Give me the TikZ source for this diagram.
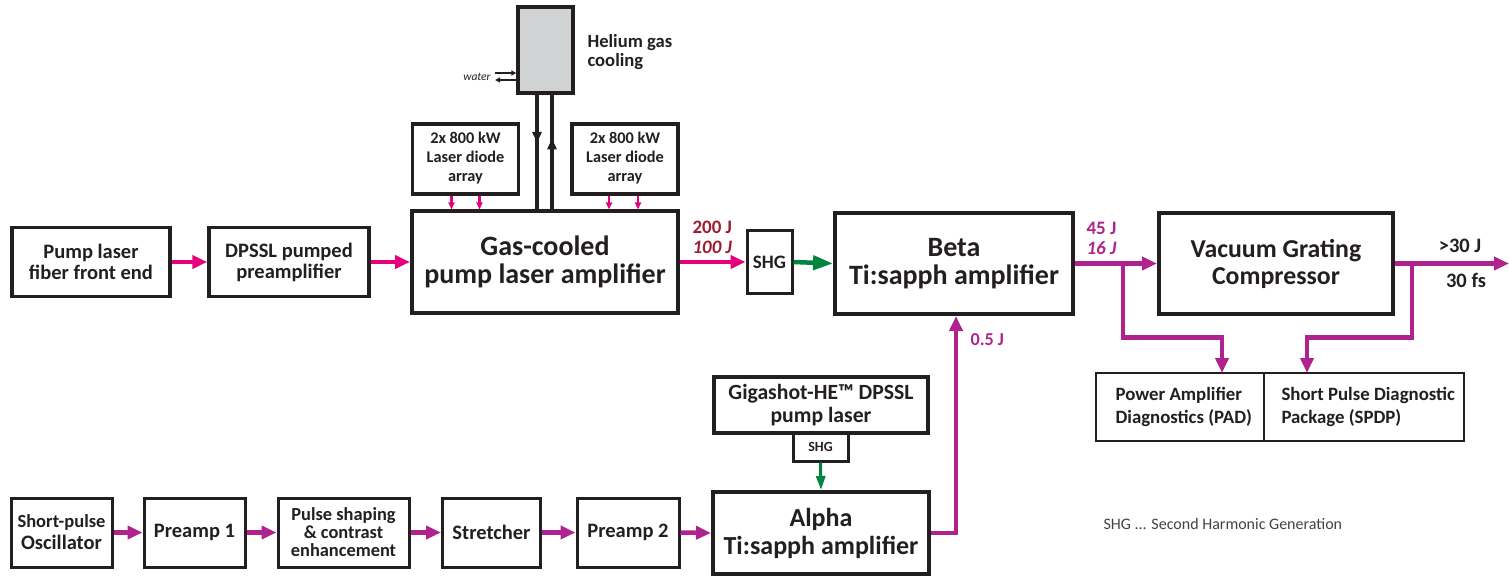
\documentclass[tikz,border=0pt]{standalone}
\usepackage{fontspec}
\setmainfont{Carlito}
\usetikzlibrary{arrows.meta,decorations.markings}
\definecolor{pinkc}{HTML}{E5007D}
\definecolor{purpc}{HTML}{B0238F}
\definecolor{redc}{HTML}{9E1B32}
\definecolor{greenc}{HTML}{00843F}
\definecolor{grayc}{HTML}{D1D2D4}
\definecolor{textc}{HTML}{231F20}
\newcommand{\fs}[2]{\fontsize{#1}{#2}\selectfont}
\newcommand{\diodetext}{\raisebox{-6pt}{\begin{tabular}{@{}c@{}}2x 800 kW\\Laser diode\\array\end{tabular}}}
\tikzset{
  blk/.style={draw=textc, line width=3.5pt, fill=white, align=center, inner sep=0pt, text=textc, font=\bfseries},
  thinblk/.style={draw=textc, line width=2.5pt, fill=white, inner sep=0pt, text=textc},
  pinkarrow/.style={draw=pinkc, line width=4.5pt, -{Triangle[length=15pt,width=13pt]}},
  smallpink/.style={draw=pinkc, line width=2.4pt, -{Triangle[length=7pt,width=6pt]}},
  purparrow/.style={draw=purpc, line width=4.5pt, -{Triangle[length=15pt,width=13pt]}},
  greenarrow/.style={draw=greenc, line width=4.5pt, -{Triangle[length=20pt,width=14pt]}},
  greenarrowsm/.style={draw=greenc, line width=3pt, -{Triangle[length=14pt,width=9pt]}},
  pipe/.style={draw=textc, line width=3.2pt},
  waterarrow/.style={draw=textc, line width=1.4pt, -{Triangle[length=5pt,width=5pt]}},
}
\begin{document}
\begin{tikzpicture}[x=1pt,y=-1pt]
\useasboundingbox (0,0) rectangle (1509,577);
% ---------- top row ----------
\node[blk, minimum width=158, minimum height=69, font=\bfseries\fs{20.5}{21}] (pump) at (91,262) {Pump laser\\fiber front end};
\node[blk, minimum width=160, minimum height=69, font=\bfseries\fs{20.5}{21}] (dpssl) at (289,262) {DPSSL pumped\\preamplifier};
\node[blk, line width=4pt, minimum width=266, minimum height=101, font=\bfseries\fs{28}{28}] (gas) at (545,262) {Gas-cooled\\pump laser amplifier};
\node[blk, minimum width=106, minimum height=70, font=\bfseries\fs{16.3}{19}] (diodeL) at (465.5,159) {\diodetext};
\node[blk, minimum width=106, minimum height=70, font=\bfseries\fs{16.3}{19}] (diodeR) at (625,159) {\diodetext};
\node[blk, fill=grayc, minimum width=55, minimum height=86] (he) at (545.5,50) {};
\node[anchor=west, align=left, text=textc, font=\bfseries\fs{18.6}{19}] (hetxt) at (584,52) {Helium gas\\cooling};
\node[text=textc, font=\itshape\fs{11.5}{12}] (water) at (477,77) {water};
\coordinate (win) at (495,73);
\coordinate (wout) at (495,80);
\draw[waterarrow] (win) -- (win -| he.west);
\draw[waterarrow] (wout -| he.west) -- (wout);
% helium pipes
\draw[pipe, postaction={decorate}, decoration={markings, mark=at position 0.42 with {\arrow{Triangle[length=11pt,width=9pt]}}}]
  ([xshift=-8.5pt]he.south) -- ([xshift=-8.5pt]he.south |- gas.north);
\draw[pipe, postaction={decorate}, decoration={markings, mark=at position 0.62 with {\arrow{Triangle[length=11pt,width=9pt]}}}]
  ([xshift=6.5pt]he.south |- gas.north) -- ([xshift=6.5pt]he.south);
% diode pump arrows
\draw[smallpink] ([xshift=-14pt]diodeL.south) -- ([xshift=-14pt]diodeL.south |- gas.north);
\draw[smallpink] ([xshift=14pt]diodeL.south) -- ([xshift=14pt]diodeL.south |- gas.north);
\draw[smallpink] ([xshift=-16pt]diodeR.south) -- ([xshift=-16pt]diodeR.south |- gas.north);
\draw[smallpink] ([xshift=13pt]diodeR.south) -- ([xshift=13pt]diodeR.south |- gas.north);
\node[blk, line width=3pt, minimum width=45, minimum height=62, font=\bfseries\fs{19}{20}] (shg) at (769.5,262) {SHG};
\node[blk, line width=4pt, minimum width=238, minimum height=101, font=\bfseries\fs{28}{28}] (beta) at (954,263.5) {Beta\\Ti:sapph amplifier};
\node[blk, line width=4pt, minimum width=234, minimum height=101, font=\bfseries\fs{25.8}{27}] (vgc) at (1276,263.5) {Vacuum Grating\\Compressor};
\node[thinblk, minimum width=168, minimum height=68] (pad) at (1180,407) {};
\node[thinblk, minimum width=200, minimum height=68] (spdp) at (1364,407) {};
\node[anchor=west, align=left, text=textc, font=\bfseries\fs{18.8}{23}] (padtxt) at (1112,407) {Power Amplifier\\Diagnostics (PAD)};
\node[anchor=west, align=left, text=textc, font=\bfseries\fs{18.8}{23}] (spdptxt) at (1278,407) {Short Pulse Diagnostic\\Package (SPDP)};
% labels
\node[anchor=west, align=left, text=redc, font=\bfseries\fs{19}{20}] (l200) at (689,237) {200 J\\\itshape 100 J};
\node[anchor=west, align=left, text=purpc, font=\bfseries\fs{19}{20}] (l45) at (1083,238) {45 J\\\itshape 16 J};
\node[text=textc, font=\bfseries\fs{20.5}{21}] (l30j) at (1460,246) {{>}30 J};
\node[text=textc, font=\bfseries\fs{20.5}{21}] (l30fs) at (1466,280) {30 fs};
\node[anchor=west, text=purpc, font=\bfseries\fs{18.2}{19}] (l05) at (967,340) {0.5 J};
% top arrows
\draw[pinkarrow] (pump.east) -- (dpssl.west);
\draw[pinkarrow] (dpssl.east) -- (gas.west);
\draw[pinkarrow] (gas.east) -- (shg.west);
\draw[greenarrow] (shg.east) -- (beta.west);
\draw[purparrow] (beta.east) -- (vgc.west);
\coordinate (b1) at (1123,263.5);
\coordinate (padin) at (1222,373);
\draw[purparrow] (b1) -- ++(0,74) -| (padin);
\coordinate (out) at (1509,263.5);
\draw[purparrow] (vgc.east) -- (out);
\coordinate (b2) at (1412,263.5);
\coordinate (spdpin) at (1307,373);
\draw[purparrow] (b2) -- ++(0,74) -| (spdpin);
% ---------- bottom row ----------
\node[blk, line width=3pt, minimum width=101, minimum height=69, font=\bfseries\fs{18.5}{22}] (osc) at (61.5,532.5) {Short-pulse\\{\fs{20.5}{22}Oscillator}};
\node[blk, line width=3pt, minimum width=101, minimum height=69, font=\bfseries\fs{20.5}{21}] (pre1) at (194.5,532.5) {Preamp 1};
\node[blk, line width=3pt, minimum width=131, minimum height=69, font=\bfseries\fs{18.4}{18}] (pulse) at (343.5,532.5) {Pulse shaping\\\& contrast\\enhancement};
\node[blk, line width=3pt, minimum width=98, minimum height=69, font=\bfseries\fs{20.5}{21}] (str) at (491.5,532.5) {Stretcher};
\node[blk, line width=3pt, minimum width=102, minimum height=69, font=\bfseries\fs{20.5}{21}] (pre2) at (628,532.5) {Preamp 2};
\node[blk, line width=4pt, minimum width=216, minimum height=82, font=\bfseries\fs{26}{28}] (alpha) at (821,533) {Alpha\\Ti:sapph amplifier};
\node[blk, line width=3.5pt, minimum width=214, minimum height=56, font=\bfseries\fs{21.7}{23}] (giga) at (821,405) {Gigashot-HE™ DPSSL\\pump laser};
\node[blk, line width=3pt, minimum width=55, minimum height=28, font=\bfseries\fs{14}{15}] (shg2) at (820.5,447) {SHG};
\draw[purparrow] (osc.east) -- (pre1.west);
\draw[purparrow] (pre1.east) -- (pulse.west);
\draw[purparrow] (pulse.east) -- (str.west);
\draw[purparrow] (str.east) -- (pre2.west);
\draw[purparrow] (pre2.east) -- (alpha.west);
\draw[greenarrowsm] (shg2.south) -- (alpha.north);
\draw[purparrow] (alpha.east) -| ([xshift=2pt]beta.south);
\node[anchor=west, text=textc!85, font=\fs{16}{18}] (legend) at (1100,524) {SHG ... Second Harmonic Generation};
\end{tikzpicture}
\end{document}
